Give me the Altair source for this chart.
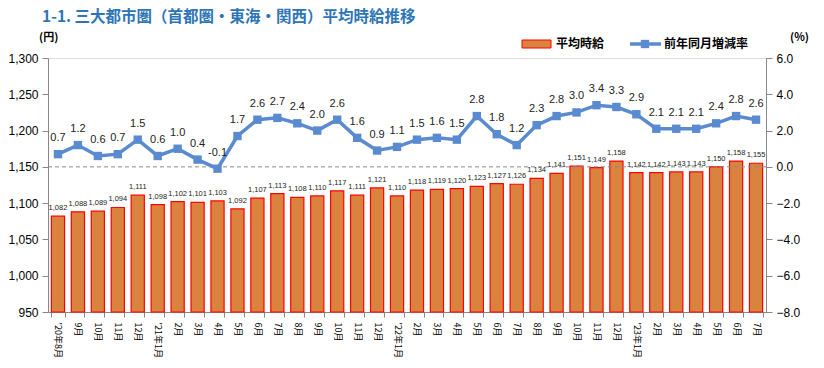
import altair as alt
import pandas as pd

months = ["'20年8月", "9月", "10月", "11月", "12月",
          "'21年1月", "2月", "3月", "4月", "5月", "6月", "7月", "8月", "9月", "10月", "11月", "12月",
          "'22年1月", "2月", "3月", "4月", "5月", "6月", "7月", "8月", "9月", "10月", "11月", "12月",
          "'23年1月", "2月", "3月", "4月", "5月", "6月", "7月"]
wage = [1082, 1088, 1089, 1094, 1111, 1098, 1102, 1101, 1103, 1092, 1107, 1113, 1108, 1110, 1117, 1111, 1121,
        1110, 1118, 1119, 1120, 1123, 1127, 1126, 1134, 1141, 1151, 1149, 1158, 1142, 1142, 1143, 1143, 1150,
        1158, 1155]
yoy = [0.7, 1.2, 0.6, 0.7, 1.5, 0.6, 1.0, 0.4, -0.1, 1.7, 2.6, 2.7, 2.4, 2.0, 2.6, 1.6, 0.9, 1.1, 1.5, 1.6,
       1.5, 2.8, 1.8, 1.2, 2.3, 2.8, 3.0, 3.4, 3.3, 2.9, 2.1, 2.1, 2.1, 2.4, 2.8, 2.6]
left_ticks = [950, 1000, 1050, 1100, 1150, 1200, 1250, 1300]
right_ticks = [-8, -6, -4, -2, 0, 2, 4, 6]

keys = [f"{i:02d}|{m}" for i, m in enumerate(months)]
df = pd.DataFrame({"key": keys, "month": months, "wage": wage, "yoy": yoy})
df["wage_lbl"] = df["wage"].map(lambda v: f"{v:,}")
df["yoy_lbl"] = df["yoy"].map(lambda v: f"{v:.1f}")

JP = "Noto Sans CJK JP"
NUM = "Liberation Sans"
BAR = "#DA833E"
LINE = "#5A8ACF"
W, H = 718, 254

xaxis = alt.Axis(labelExpr="split(datum.value, '|')[1]", labelAngle=90, labelAlign="left",
                 labelBaseline="middle", labelFont=JP, labelFontSize=9, labelColor="#000",
                 domainColor="#888", tickColor="#888", tickBand="extent", tickSize=5,
                 labelPadding=5)
xscale = alt.Scale(paddingInner=0.34, paddingOuter=0.17)
xs = alt.X("key:N", sort=keys, title=None, scale=xscale, axis=xaxis)

laxis = alt.Axis(values=left_ticks, labelExpr="format(datum.value, ',.0f')", grid=False, labelFont=NUM,
                 labelFontSize=12, labelColor="#000", domainColor="#888", tickColor="#888",
                 tickSize=6, labelPadding=4)
raxis = alt.Axis(orient="right", values=right_ticks, labelExpr="format(datum.value, '.1f')", grid=False,
                 labelFont=NUM, labelFontSize=12, labelColor="#000", domainColor="#888",
                 tickColor="#888", tickSize=6, labelPadding=4)
ly = alt.Scale(domain=[950, 1300], zero=False, nice=False)
ry = alt.Scale(domain=[-8, 6], nice=False)


def LY(f):
    return alt.Y(f, scale=ly, title=None, axis=laxis)


def RY(f):
    return alt.Y(f, scale=ry, title=None, axis=raxis)


bars = alt.Chart(df).mark_bar(color=BAR, stroke="#FF0000", strokeWidth=1.2).encode(
    x=xs, y=LY("wage:Q"), y2=alt.datum(950))
bar_txt = alt.Chart(df).mark_text(font=NUM, fontSize=7.5, dy=-8, color="#222").encode(
    x=xs, y=LY("wage:Q"), text="wage_lbl:N")
left = alt.layer(bars, bar_txt)

zero = alt.Chart(pd.DataFrame({"z": [0]})).mark_rule(color="#888", strokeDash=[4, 3], strokeWidth=1).encode(
    y=RY("z:Q"))
line = alt.Chart(df).mark_line(color=LINE, strokeWidth=3.5).encode(x=xs, y=RY("yoy:Q"))
pts = alt.Chart(df).mark_point(shape="square", filled=True, opacity=1, size=70, color=LINE).encode(
    x=xs, y=RY("yoy:Q"))
line_txt = alt.Chart(df).mark_text(font=NUM, fontSize=11, dy=-16, color="#222").encode(
    x=xs, y=RY("yoy:Q"), text="yoy_lbl:N")
right = alt.layer(zero, line, pts, line_txt)

title = alt.Chart(pd.DataFrame({"t": ["1-1. 三大都市圏（首都圏・東海・関西）平均時給推移"]})).mark_text(
    font=JP, fontSize=15.5, fontWeight="bold", color="#2E75B6", align="left", baseline="top").encode(
    x=alt.value(-6), y=alt.value(-48), text="t:N")
yen = alt.Chart(pd.DataFrame({"t": ["(円)"]})).mark_text(font=JP, fontSize=11, fontWeight="bold",
                                                        align="left", baseline="middle").encode(
    x=alt.value(-9), y=alt.value(-20), text="t:N")
pct = alt.Chart(pd.DataFrame({"t": ["(%)"]})).mark_text(font=JP, fontSize=11, fontWeight="bold",
                                                       align="left", baseline="middle").encode(
    x=alt.value(742), y=alt.value(-20), text="t:N")
leg_rect = alt.Chart(pd.DataFrame({"a": [0]})).mark_rect(color=BAR, stroke="#FF0000", strokeWidth=1).encode(
    x=alt.value(474), x2=alt.value(503), y=alt.value(-18), y2=alt.value(-10))
leg_t1 = alt.Chart(pd.DataFrame({"t": ["平均時給"]})).mark_text(font=JP, fontSize=12, fontWeight="bold",
                                                             align="left", baseline="middle").encode(
    x=alt.value(508), y=alt.value(-14), text="t:N")
leg_line = alt.Chart(pd.DataFrame({"a": [0]})).mark_rule(color=LINE, strokeWidth=3.5).encode(
    x=alt.value(582), x2=alt.value(613), y=alt.value(-14))
leg_pt = alt.Chart(pd.DataFrame({"a": [0]})).mark_point(shape="square", filled=True, opacity=1, size=70,
                                                        color=LINE).encode(
    x=alt.value(597), y=alt.value(-14))
leg_t2 = alt.Chart(pd.DataFrame({"t": ["前年同月増減率"]})).mark_text(font=JP, fontSize=12, fontWeight="bold",
                                                               align="left", baseline="middle").encode(
    x=alt.value(616), y=alt.value(-14), text="t:N")

chart = alt.layer(left, right, title, yen, pct, leg_rect, leg_t1, leg_line, leg_pt, leg_t2).resolve_scale(
    y="independent"
).properties(
    width=W, height=H, autosize=alt.AutoSizeParams(type="none"),
    padding={"left": 40, "top": 50, "right": 50, "bottom": 52}
).configure_view(stroke=None).configure(background="white")

chart.save("out.html", embed_options={"renderer": "svg", "actions": False})
